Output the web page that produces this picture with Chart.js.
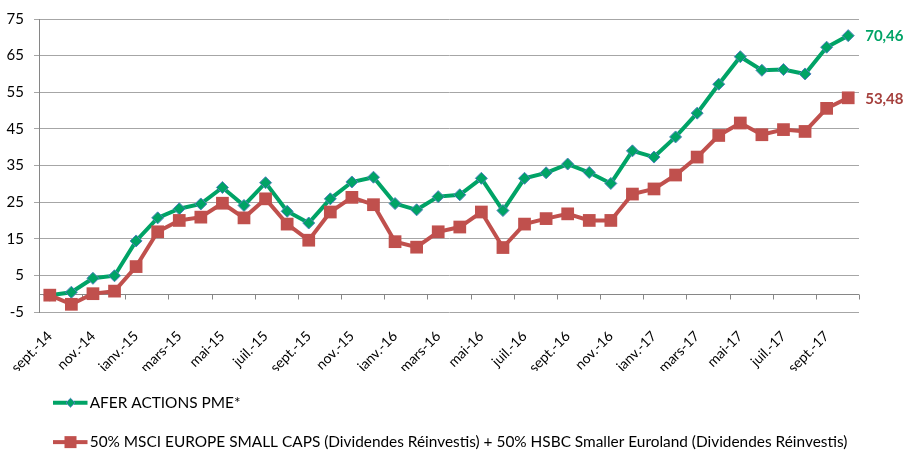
<!DOCTYPE html>
<html>
<head>
<meta charset="utf-8">
<script src="https://cdn.jsdelivr.net/npm/chart.js@4"></script>
<style>
html,body{margin:0;padding:0;background:#fff;}
#wrap{width:905px;height:450px;position:relative;}
</style>
</head>
<body>
<div id="wrap"><canvas id="c" width="905" height="450"></canvas></div>
<script>
const categories = ["sept.-14","oct.-14","nov.-14","déc.-14","janv.-15","févr.-15","mars-15","avr.-15","mai-15","juin-15","juil.-15","août-15","sept.-15","oct.-15","nov.-15","déc.-15","janv.-16","févr.-16","mars-16","avr.-16","mai-16","juin-16","juil.-16","août-16","sept.-16","oct.-16","nov.-16","déc.-16","janv.-17","févr.-17","mars-17","avr.-17","mai-17","juin-17","juil.-17","août-17","sept.-17","oct.-17"];
const seriesNames = ["AFER ACTIONS PME*","50% MSCI EUROPE SMALL CAPS (Dividendes Réinvestis) + 50% HSBC Smaller Euroland (Dividendes Réinvestis)"];
const aferValues = [-0.4,0.4,4.2,4.9,14.4,20.7,23.2,24.5,29.0,24.1,30.3,22.5,19.3,25.9,30.5,31.8,24.6,22.9,26.5,27.0,31.5,22.7,31.5,33.0,35.4,33.1,30.1,39.0,37.3,42.8,49.3,57.2,64.7,61.0,61.2,60.0,67.3,70.46];
const indexValues = [-0.4,-2.9,0.0,0.7,7.4,16.9,20.0,20.9,24.7,20.7,25.9,19.0,14.6,22.3,26.3,24.3,14.2,12.7,16.9,18.2,22.3,12.6,19.0,20.5,21.8,20.0,20.0,27.2,28.6,32.4,37.3,43.2,46.6,43.4,44.8,44.3,50.6,53.48];
const endLabels = ["70,46","53,48"];
const yTicks = [-5,5,15,25,35,45,55,65,75];

const GREEN = '#00A366';
const RED = '#C0504D';
const BLUE_BORDER = '#4F81BD';
const FONT = 'Lato, "Liberation Sans", sans-serif';

// legend icon: line + marker (legend row starts at x=24, box width 58 -> centre 53)
function legendIcon(kind){
  const cv = document.createElement('canvas');
  cv.width = 70; cv.height = 18;
  const g = cv.getContext('2d');
  const cy = 9, mx = 52.5;   // image spans page x 18..88
  g.strokeStyle = kind === 'g' ? GREEN : RED;
  g.lineWidth = 4;
  g.beginPath(); g.moveTo(35, cy); g.lineTo(69.5, cy); g.stroke();
  if (kind === 'g') {
    g.fillStyle = GREEN; g.strokeStyle = BLUE_BORDER; g.lineWidth = 1;
    g.beginPath(); g.moveTo(mx-4.5, cy); g.lineTo(mx, cy-4.5); g.lineTo(mx+4.5, cy); g.lineTo(mx, cy+4.5); g.closePath();
    g.fill(); g.stroke();
  } else {
    g.fillStyle = RED;
    g.fillRect(mx-6, cy-6, 12, 12);
  }
  return cv;
}

const zeroAxisPlugin = {
  id: 'zeroAxis',
  beforeDatasetsDraw(chart){
    const {ctx, chartArea, scales:{x, y}} = chart;
    const y0 = Math.round(y.getPixelForValue(0)) + 0.5;
    ctx.save();
    ctx.strokeStyle = '#868686';
    ctx.lineWidth = 1;
    ctx.beginPath();
    ctx.moveTo(chartArea.left, y0); ctx.lineTo(chartArea.right, y0);
    for (let k = 0; k <= categories.length; k += 2) {
      const px = Math.round(x.getPixelForValue(k - 0.5)) + 0.5;
      ctx.moveTo(px, y0); ctx.lineTo(px, y0 + 5);
    }
    ctx.stroke();
    ctx.restore();
  }
};

const endLabelPlugin = {
  id: 'endLabels',
  afterDatasetsDraw(chart){
    const ctx = chart.ctx;
    const colors = [GREEN, '#A5403D'];
    ctx.save();
    ctx.font = 'bold 15px ' + FONT;
    ctx.textAlign = 'left';
    ctx.textBaseline = 'middle';
    chart.data.datasets.forEach((ds, i) => {
      const meta = chart.getDatasetMeta(i);
      const pt = meta.data[meta.data.length - 1];
      ctx.fillStyle = colors[i];
      ctx.fillText(endLabels[i], pt.x + 17, pt.y + 1);
    });
    ctx.restore();
  }
};

new Chart(document.getElementById('c'), {
  type: 'line',
  data: {
    labels: categories,
    datasets: [
      {
        label: seriesNames[0],
        data: aferValues,
        borderColor: GREEN,
        backgroundColor: GREEN,
        borderWidth: 4,
        pointStyle: 'rectRot',
        pointRadius: 6,
        pointBackgroundColor: GREEN,
        pointBorderColor: BLUE_BORDER,
        pointBorderWidth: 1,
        tension: 0,
        order: 1
      },
      {
        label: seriesNames[1],
        data: indexValues,
        borderColor: RED,
        backgroundColor: RED,
        borderWidth: 4,
        pointStyle: 'rect',
        pointRadius: 9,
        pointBackgroundColor: RED,
        pointBorderColor: RED,
        pointBorderWidth: 0,
        tension: 0,
        order: 0
      }
    ]
  },
  options: {
    responsive: false,
    animation: false,
    layout: { padding: { top: 9, right: 46, left: 0, bottom: 0 } },
    plugins: {
      tooltip: { enabled: false },
      legend: {
        position: 'bottom',
        align: 'start',
        maxHeight: 79,
        labels: {
          usePointStyle: true,
          pointStyleWidth: 58,
          padding: 24,
          color: '#000',
          font: { family: FONT, size: 15.4 },
          generateLabels(chart){
            return chart.data.datasets.map((ds, i) => ({
              text: ds.label,
              pointStyle: legendIcon(i === 0 ? 'g' : 'r'),
              fillStyle: ds.borderColor,
              strokeStyle: ds.borderColor,
              lineWidth: 0,
              hidden: false,
              datasetIndex: i,
              fontColor: '#000'
            }));
          }
        }
      }
    },
    scales: {
      x: {
        type: 'category',
        offset: true,
        grid: { display: false, drawTicks: false },
        border: { display: false },
        afterFit(scale){ scale.height = 59; scale.paddingLeft = 0; scale.paddingRight = 0; },
        ticks: {
          autoSkip: false,
          maxRotation: 45,
          minRotation: 45,
          padding: 16,
          color: '#000',
          font: { family: FONT, size: 14 },
          callback(v, i){ return i % 2 === 0 ? categories[i] : ''; }
        }
      },
      y: {
        min: -5,
        max: 75,
        afterBuildTicks(scale){ scale.ticks = yTicks.map(v => ({ value: v })); },
        afterFit(scale){ scale.width = 39; },
        grid: { color: '#A6A6A6', lineWidth: 1, drawTicks: true, tickLength: 5 },
        border: { display: true, color: '#868686', width: 1 },
        ticks: {
          color: '#000',
          padding: 10,
          font: { family: FONT, size: 15 }
        }
      }
    }
  },
  plugins: [zeroAxisPlugin, endLabelPlugin]
});
</script>
</body>
</html>
